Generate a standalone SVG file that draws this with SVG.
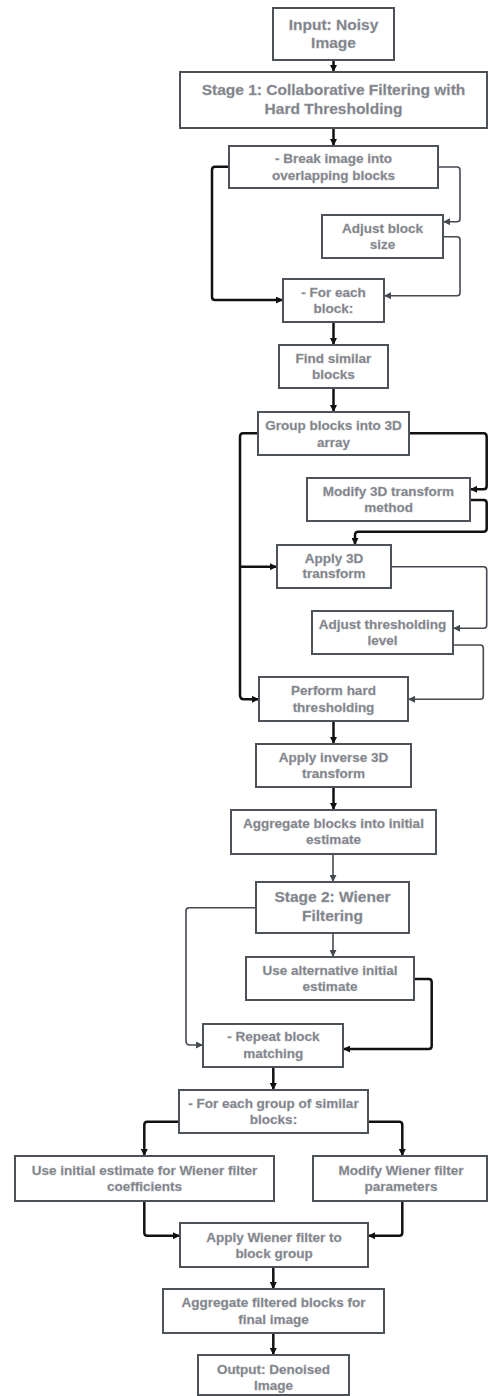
<svg xmlns="http://www.w3.org/2000/svg" width="489" height="1396" viewBox="0 0 489 1396">
<style>
.box{fill:#ffffff;stroke:#4d5158;stroke-width:2}
.t{font-family:"Liberation Sans",Arial,sans-serif;font-weight:bold;font-size:13.5px;fill:#80838a;text-anchor:middle;stroke:#9a9da3;stroke-width:0.3}
.h{font-size:15.5px}
.cb{fill:none;stroke:#111111;stroke-width:2.5;stroke-linejoin:round;marker-end:url(#ab)}
.cg{fill:none;stroke:#454950;stroke-width:1.6;stroke-linejoin:round;marker-end:url(#ag)}
</style>
<defs>
<marker id="ab" viewBox="0 0 10 10" refX="10" refY="5" markerWidth="8" markerHeight="7" orient="auto" markerUnits="userSpaceOnUse"><path d="M0,0 L10,5 L0,10 z" fill="#111111"/></marker>
<marker id="ag" viewBox="0 0 10 10" refX="10" refY="5" markerWidth="8" markerHeight="7" orient="auto" markerUnits="userSpaceOnUse"><path d="M0,0 L10,5 L0,10 z" fill="#454950"/></marker>
</defs>
<rect width="489" height="1396" fill="#ffffff"/>
<g id="connectors">
<path class="cb" d="M333.5,60 V72"/>
<path class="cb" d="M333.5,128 V146"/>
<path class="cb" d="M229,166.7 H215 Q212,166.7 212,170 V297 Q212,300 215,300 H283"/>
<path class="cg" d="M438,167 H457 Q460,167 460,170 V219 Q460,221.7 457,221.7 H443"/>
<path class="cg" d="M443,236.7 H457 Q460,236.7 460,240 V293 Q460,295.7 457,295.7 H384"/>
<path class="cb" d="M333.5,322 V345"/>
<path class="cb" d="M333.5,388 V412"/>
<path class="cb" d="M258,433.3 H243 Q240,433.3 240,437 V695 Q240,699.3 244,699.3 H259"/>
<path class="cb" d="M240,566.7 H277"/>
<path class="cb" d="M409,433.3 H483.5 Q486.7,433.3 486.7,437 V486 Q486.7,489.3 483.5,489.3 H470"/>
<path class="cb" d="M470,500 H483.5 Q486.7,500 486.7,503 V528.5 Q486.7,531.7 483.5,531.7 H358 Q355,531.7 355,535 V545"/>
<path class="cg" d="M391,566.7 H483.7 Q486.7,566.7 486.7,570 V625.3 Q486.7,628.3 483.7,628.3 H453"/>
<path class="cg" d="M453,645 H480.3 Q483.3,645 483.3,648 V696.3 Q483.3,699.3 480.3,699.3 H408"/>
<path class="cb" d="M333.5,721 V744"/>
<path class="cb" d="M333.5,787 V810"/>
<path class="cg" d="M333,854 V882"/>
<path class="cg" d="M256,907.7 H189 Q186,907.7 186,911 V1041 Q186,1045 190,1045 H203"/>
<path class="cg" d="M333,933 V957"/>
<path class="cb" d="M414,979 H428.7 Q431.7,979 431.7,982 V1046 Q431.7,1049 428.7,1049 H343"/>
<path class="cb" d="M273.3,1067 V1090"/>
<path class="cb" d="M179,1121.7 H147.3 Q144.3,1121.7 144.3,1125 V1156"/>
<path class="cb" d="M368,1121.7 H399.3 Q402.3,1121.7 402.3,1125 V1156"/>
<path class="cb" d="M144.3,1201 V1232.7 Q144.3,1235.7 147.3,1235.7 H180"/>
<path class="cb" d="M402.3,1201 V1232.7 Q402.3,1235.7 399.3,1235.7 H368"/>
<path class="cb" d="M273.3,1267 V1289"/>
<path class="cb" d="M273.3,1333 V1355"/>
</g>
<g id="input"><rect class="box" x="273" y="8" width="121" height="52"/><text class="t h" x="333.5" y="29.5">Input: Noisy</text><text class="t h" x="333.5" y="47.5">Image</text></g>
<g id="stage1"><rect class="box" x="180" y="72" width="307" height="56"/><text class="t h" x="333.5" y="94.5">Stage 1: Collaborative Filtering with</text><text class="t h" x="333.5" y="113.5">Hard Thresholding</text></g>
<g id="break"><rect class="box" x="229" y="146" width="209" height="42"/><text class="t" x="333.5" y="162.8">- Break image into</text><text class="t" x="333.5" y="179.8">overlapping blocks</text></g>
<g id="adjustblock"><rect class="box" x="322" y="215" width="121" height="43"/><text class="t" x="382.5" y="232.5">Adjust block</text><text class="t" x="382.5" y="248.8">size</text></g>
<g id="foreach"><rect class="box" x="283" y="279" width="101" height="43"/><text class="t" x="333.5" y="296.5">- For each</text><text class="t" x="333.5" y="312.5">block:</text></g>
<g id="find"><rect class="box" x="279" y="345" width="109" height="43"/><text class="t" x="333.5" y="362.8">Find similar</text><text class="t" x="333.5" y="378.8">blocks</text></g>
<g id="group"><rect class="box" x="258" y="412" width="151" height="43"/><text class="t" x="333.5" y="429.8">Group blocks into 3D</text><text class="t" x="333.5" y="446.5">array</text></g>
<g id="modify3d"><rect class="box" x="307" y="478" width="163" height="43"/><text class="t" x="388.5" y="495.8">Modify 3D transform</text><text class="t" x="388.5" y="512">method</text></g>
<g id="apply3d"><rect class="box" x="277" y="545" width="114" height="43"/><text class="t" x="334" y="562.5">Apply 3D</text><text class="t" x="334" y="578">transform</text></g>
<g id="adjthresh"><rect class="box" x="312" y="611" width="141" height="43"/><text class="t" x="382.5" y="629">Adjust thresholding</text><text class="t" x="382.5" y="644.8">level</text></g>
<g id="perform"><rect class="box" x="259" y="677" width="149" height="44"/><text class="t" x="333.5" y="694.8">Perform hard</text><text class="t" x="333.5" y="711.5">thresholding</text></g>
<g id="inverse"><rect class="box" x="256" y="744" width="155" height="43"/><text class="t" x="333.5" y="762">Apply inverse 3D</text><text class="t" x="333.5" y="778">transform</text></g>
<g id="aggregate"><rect class="box" x="231" y="810" width="205" height="44"/><text class="t" x="333.5" y="828">Aggregate blocks into initial</text><text class="t" x="333.5" y="844">estimate</text></g>
<g id="stage2"><rect class="box" x="256" y="882" width="153" height="51"/><text class="t h" x="332.5" y="902.2">Stage 2: Wiener</text><text class="t h" x="332.5" y="920.5">Filtering</text></g>
<g id="usealt"><rect class="box" x="246" y="957" width="168" height="43"/><text class="t" x="330" y="974.8">Use alternative initial</text><text class="t" x="330" y="990.5">estimate</text></g>
<g id="repeat"><rect class="box" x="203" y="1024" width="140" height="43"/><text class="t" x="273.3" y="1041.3">- Repeat block</text><text class="t" x="273.3" y="1057.5">matching</text></g>
<g id="foreachgroup"><rect class="box" x="179" y="1090" width="189" height="43"/><text class="t" x="273.5" y="1107.5">- For each group of similar</text><text class="t" x="273.5" y="1124">blocks:</text></g>
<g id="useinit"><rect class="box" x="15" y="1156" width="259" height="45"/><text class="t" x="144.5" y="1174.8">Use initial estimate for Wiener filter</text><text class="t" x="144.5" y="1190.8">coefficients</text></g>
<g id="modifywiener"><rect class="box" x="313" y="1156" width="174" height="45"/><text class="t" x="401" y="1174.8">Modify Wiener filter</text><text class="t" x="401" y="1190.8">parameters</text></g>
<g id="applywiener"><rect class="box" x="180" y="1223" width="188" height="44"/><text class="t" x="274" y="1241.5">Apply Wiener filter to</text><text class="t" x="274" y="1257.5">block group</text></g>
<g id="aggfinal"><rect class="box" x="163" y="1289" width="221" height="44"/><text class="t" x="273.5" y="1307">Aggregate filtered blocks for</text><text class="t" x="273.5" y="1323.8">final image</text></g>
<g id="output"><rect class="box" x="198" y="1355" width="151" height="40"/><text class="t" x="273.5" y="1373.8">Output: Denoised</text><text class="t" x="273.5" y="1389.8">Image</text></g>
</svg>
